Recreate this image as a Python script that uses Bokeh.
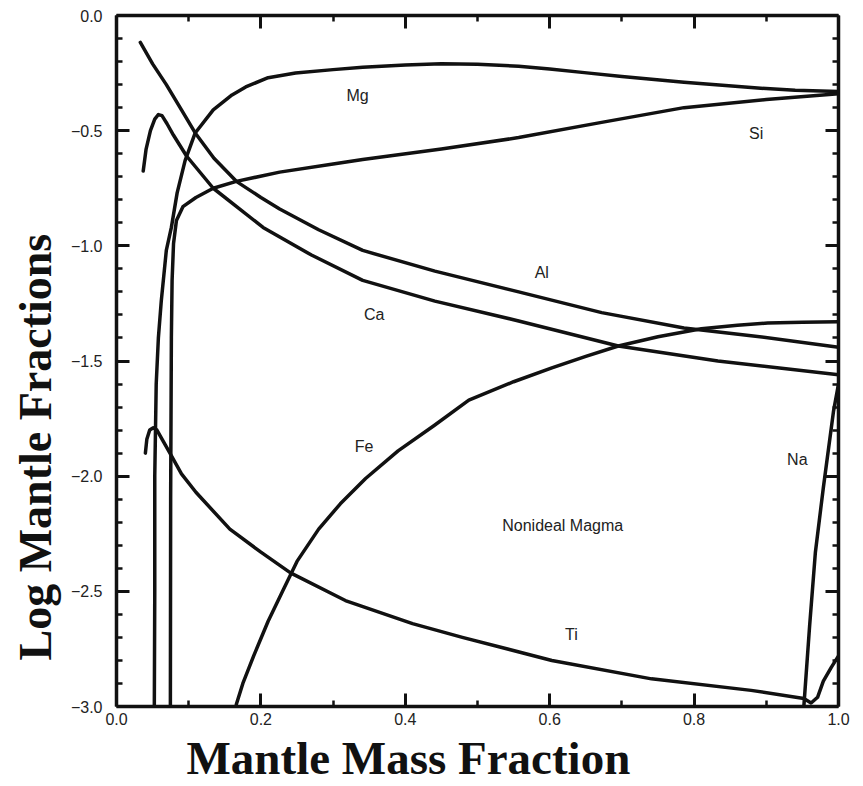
from bokeh.plotting import figure
from bokeh.models import Range1d, LinearAxis, FixedTicker, Label, Title
from bokeh.embed import file_html
from bokeh.resources import INLINE

# Log mantle fractions of each oxide component vs. mantle mass fraction
mg_x = [0.052, 0.053, 0.053, 0.055, 0.058, 0.062, 0.069, 0.076, 0.084, 0.095, 0.109, 0.134,
        0.16, 0.179, 0.21, 0.248, 0.30, 0.341, 0.40, 0.45, 0.50, 0.557, 0.60, 0.648, 0.70,
        0.786, 0.879, 0.94, 1.0]
mg_y = [-3.3, -2.5, -2.0, -1.6, -1.4, -1.24, -1.02, -0.92, -0.77, -0.63, -0.51, -0.41,
        -0.345, -0.31, -0.27, -0.25, -0.235, -0.225, -0.215, -0.21, -0.212, -0.22, -0.232,
        -0.248, -0.265, -0.29, -0.313, -0.325, -0.33]

si_x = [0.0745, 0.075, 0.076, 0.077, 0.079, 0.083, 0.092, 0.11, 0.134, 0.166, 0.226, 0.30,
        0.341, 0.45, 0.557, 0.67, 0.786, 0.90, 1.0]
si_y = [-3.3, -2.1, -1.4, -1.15, -0.99, -0.89, -0.83, -0.79, -0.75, -0.72, -0.68, -0.645,
        -0.625, -0.58, -0.53, -0.465, -0.40, -0.365, -0.34]

al_x = [0.033, 0.05, 0.069, 0.09, 0.109, 0.135, 0.166, 0.20, 0.226, 0.28, 0.341, 0.441,
        0.557, 0.672, 0.786, 0.879, 1.0]
al_y = [-0.117, -0.21, -0.30, -0.41, -0.51, -0.62, -0.72, -0.79, -0.84, -0.93, -1.02, -1.11,
        -1.20, -1.29, -1.357, -1.39, -1.44]

ca_x = [0.037, 0.041, 0.047, 0.053, 0.058, 0.063, 0.070, 0.079, 0.097, 0.134, 0.203, 0.27,
        0.341, 0.441, 0.557, 0.695, 0.833, 1.0]
ca_y = [-0.675, -0.58, -0.50, -0.45, -0.43, -0.435, -0.47, -0.52, -0.61, -0.75, -0.92, -1.04,
        -1.15, -1.24, -1.326, -1.435, -1.50, -1.56]

fe_x = [0.160, 0.166, 0.175, 0.19, 0.21, 0.23, 0.25, 0.28, 0.31, 0.345, 0.39, 0.44, 0.488,
        0.55, 0.603, 0.65, 0.695, 0.75, 0.81, 0.86, 0.902, 0.95, 1.0]
fe_y = [-3.2, -2.99, -2.90, -2.78, -2.63, -2.50, -2.37, -2.23, -2.12, -2.01, -1.89, -1.78,
        -1.67, -1.59, -1.53, -1.48, -1.435, -1.395, -1.36, -1.345, -1.335, -1.332, -1.33]

ti_x = [0.040, 0.042, 0.046, 0.051, 0.056, 0.065, 0.074, 0.09, 0.11, 0.157, 0.20, 0.241,
        0.317, 0.41, 0.479, 0.603, 0.741, 0.879, 0.952, 0.962, 0.971, 0.979, 0.99, 1.0]
ti_y = [-1.90, -1.84, -1.80, -1.79, -1.80, -1.85, -1.90, -1.99, -2.07, -2.23, -2.33, -2.42,
        -2.54, -2.64, -2.70, -2.80, -2.88, -2.93, -2.965, -2.985, -2.96, -2.89, -2.83, -2.78]

na_x = [0.949, 0.952, 0.960, 0.968, 0.979, 0.993, 1.0]
na_y = [-3.2, -3.0, -2.65, -2.33, -2.05, -1.72, -1.6]

series = [(mg_x, mg_y), (si_x, si_y), (al_x, al_y), (ca_x, ca_y),
          (fe_x, fe_y), (ti_x, ti_y), (na_x, na_y)]

# curve labels: text, x, y
label_text = ["Mg", "Si", "Al", "Ca", "Fe", "Na", "Nonideal Magma", "Ti"]
label_x = [0.334, 0.886, 0.589, 0.357, 0.343, 0.943, 0.618, 0.630]
label_y = [-0.348, -0.513, -1.117, -1.296, -1.87, -1.926, -2.213, -2.687]

x_major = [0.0, 0.2, 0.4, 0.6, 0.8, 1.0]
x_minor = [0.1, 0.3, 0.5, 0.7, 0.9]
y_major = [0.0, -0.5, -1.0, -1.5, -2.0, -2.5, -3.0]
y_minor = [round(-0.1 * i, 1) for i in range(31) if i % 5 != 0]

p = figure(width=863, height=786, x_range=Range1d(0, 1), y_range=Range1d(-3, 0),
           output_backend="svg", toolbar_location=None,
           min_border_left=113, min_border_right=25, min_border_top=15, min_border_bottom=80,
           background_fill_color="white", border_fill_color="white")
p.xgrid.visible = False
p.ygrid.visible = False
p.outline_line_color = None

for xs, ys in series:
    p.line(xs, ys, line_color="#111111", line_width=3.5, line_join="round", line_cap="round")


def fmt(v):
    return ("%.1f" % v).replace("-", "\u2212")


def style_axis(ax, major, minor, labels=True):
    ax.ticker = FixedTicker(ticks=major, minor_ticks=minor)
    ax.axis_line_width = 3.5
    ax.axis_line_color = "#111111"
    ax.major_tick_in = 13
    ax.major_tick_out = 0
    ax.minor_tick_in = 6
    ax.minor_tick_out = 0
    ax.major_tick_line_width = 3
    ax.minor_tick_line_width = 2.5
    ax.major_tick_line_color = "#111111"
    ax.minor_tick_line_color = "#111111"
    if labels:
        ax.major_label_text_font = "Liberation Sans"
        ax.major_label_text_font_size = "16px"
        ax.major_label_text_color = "#222222"
        ax.major_label_overrides = {v: fmt(v) for v in major}
    else:
        ax.major_label_overrides = {v: "" for v in major}
        ax.major_label_standoff = 0


style_axis(p.xaxis[0], x_major, x_minor)
style_axis(p.yaxis[0], y_major, y_minor)
p.xaxis[0].major_label_standoff = 6
p.yaxis[0].major_label_standoff = 14

top = LinearAxis()
style_axis(top, x_major, x_minor, labels=False)
p.add_layout(top, "above")
right = LinearAxis()
style_axis(right, y_major, y_minor, labels=False)
p.add_layout(right, "right")

for t, lx, ly in zip(label_text, label_x, label_y):
    p.add_layout(Label(x=lx, y=ly, text=t, text_font="Liberation Sans", text_font_size="16px",
                       text_color="#222222", text_align="center", text_baseline="middle"))

# axis titles, set off toward the lower left
p.add_layout(Title(text="Mantle Mass Fraction", align="left", offset=70, standoff=4,
                   text_font="Liberation Serif", text_font_style="bold",
                   text_font_size="47px", text_color="#111111"), "below")
p.add_layout(Title(text="Log Mantle Fractions", align="left", offset=46, standoff=14,
                   text_font="Liberation Serif", text_font_style="bold",
                   text_font_size="46px", text_color="#111111", text_line_height=0.9), "left")

open("out.html", "w").write(file_html(p, INLINE))
